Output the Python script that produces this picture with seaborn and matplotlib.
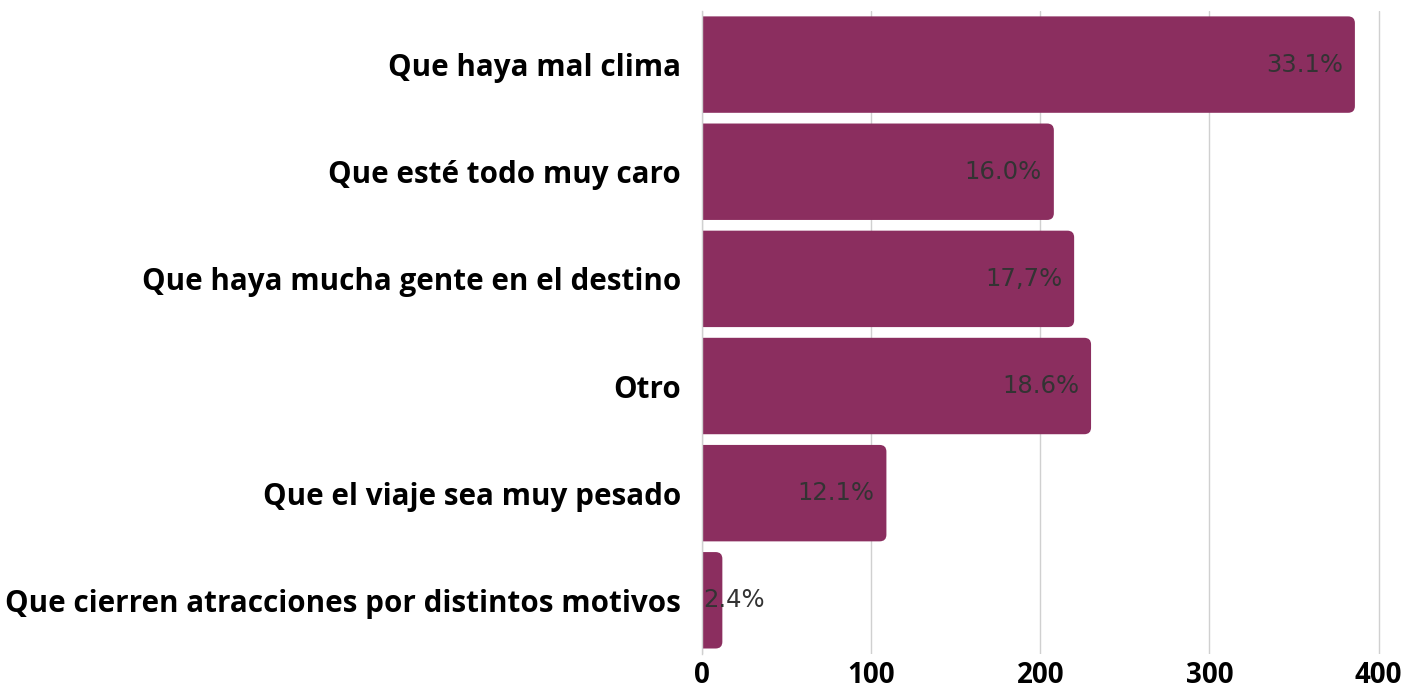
import pandas as pd
import seaborn as sns
import matplotlib.pyplot as plt
from matplotlib.patches import FancyBboxPatch

# Data
categories = [
    'Que haya mal clima',
    'Que esté todo muy caro',
    'Que haya mucha gente en el destino',
    'Otro',
    'Que el viaje sea muy pesado',
    'Que cierren atracciones por distintos motivos',
]
counts = [386, 208, 220, 230, 109, 12]
pct_labels = ['33.1%', '16.0%', '17,7%', '18.6%', '12.1%', '2.4%']

df = pd.DataFrame({'motivo': categories, 'n': counts, 'label': pct_labels})

sns.set_theme(style='white')
plt.rcParams['font.family'] = ['Open Sans', 'DejaVu Sans']

fig, ax = plt.subplots(figsize=(14.03, 6.89), dpi=100)
fig.subplots_adjust(left=0.5004, right=0.985, top=0.984, bottom=0.051)

bar_color = '#8b2e5f'
sns.barplot(data=df, x='n', y='motivo', color=bar_color, width=0.9,
            saturation=1, ax=ax, zorder=2)

# Swap plain bars for bars with rounded right corners
# (start a bit left of 0 so the axes clip hides the left rounding)
for p in list(ax.patches):
    x0, y0 = p.get_x(), p.get_y()
    w, h = p.get_width(), p.get_height()
    p.remove()
    ax.add_patch(FancyBboxPatch((x0 - 6, y0), w + 6, h,
                                boxstyle='round,pad=0,rounding_size=4',
                                mutation_aspect=0.0157,
                                facecolor=bar_color, edgecolor='none', zorder=2))

# Value labels
for i, (v, lab) in enumerate(zip(counts, pct_labels)):
    if v < 40:
        ax.text(0.5, i, lab, ha='left', va='center', fontsize=17.5,
                color='#333333', family='DejaVu Sans', zorder=3)
    else:
        ax.text(v - 7, i, lab, ha='right', va='center', fontsize=17.5,
                color='#333333', family='DejaVu Sans', zorder=3)

ax.set_xlim(0, 402)
ax.set_xticks([0, 100, 200, 300, 400])
ax.xaxis.grid(True, color='#d0d0d0', linewidth=1, zorder=0)
ax.set_axisbelow(True)
for s in ['top', 'right', 'bottom']:
    ax.spines[s].set_visible(False)
ax.spines['left'].set_color('#d0d0d0')
ax.spines['left'].set_linewidth(1)

ax.set_xlabel('')
ax.set_ylabel('')
ax.tick_params(axis='y', length=0, pad=15, labelsize=21.3)
ax.tick_params(axis='x', length=0, pad=5, labelsize=20)
for t in ax.get_yticklabels() + ax.get_xticklabels():
    t.set_fontweight('bold')
    t.set_color('black')

plt.savefig('out.png', dpi=100)
